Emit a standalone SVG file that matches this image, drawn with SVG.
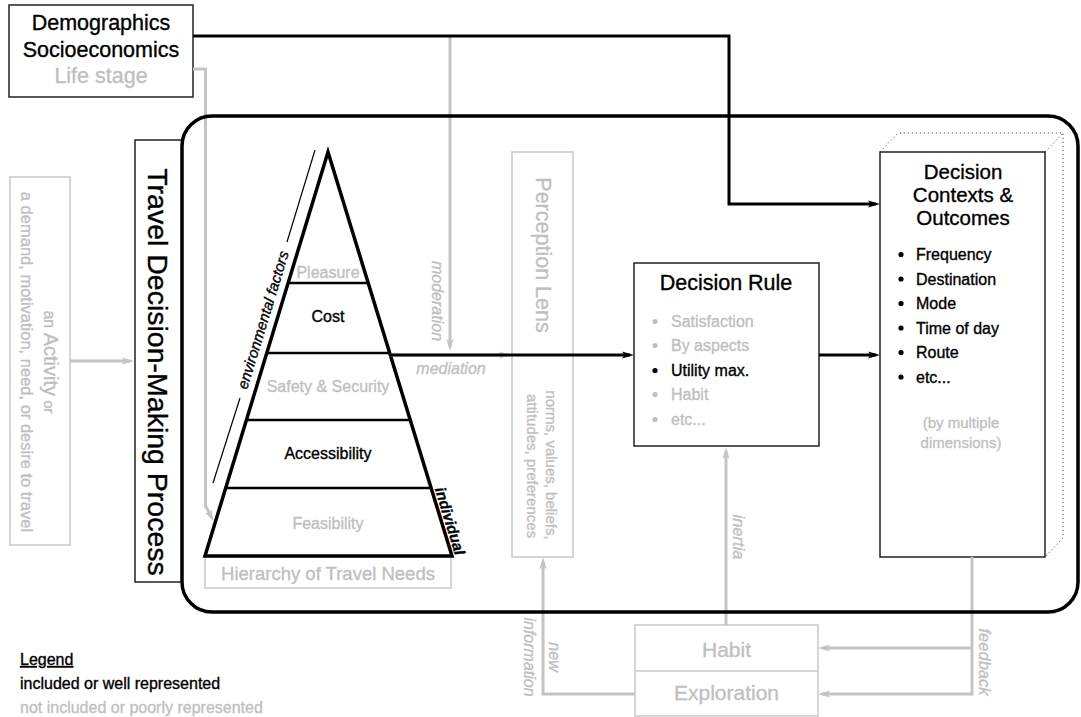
<svg xmlns="http://www.w3.org/2000/svg" width="1081" height="717" viewBox="0 0 1081 717">
  <style>
    text { font-family: "Liberation Sans", Arial, Helvetica, sans-serif; stroke-width: 0.35; }
    .k { fill: #000; }
    text.k, .k text { stroke: #000; }
    .g { fill: #bfbfbf; }
    text.g, .g text { stroke: #bfbfbf; }
    .it { font-style: italic; }
    .box { fill: none; stroke: #222; stroke-width: 1.5; }
    .gbox { fill: none; stroke: #c8c8c8; stroke-width: 1.5; }
    .bl { fill: none; stroke: #000; stroke-width: 3; }
    .gl { fill: none; stroke: #c4c4c4; stroke-width: 3; }
    .tier { stroke: #000; stroke-width: 2.5; }
    .dot { fill: none; stroke: #222; stroke-width: 1; stroke-dasharray: 1 3; }
  </style>
  <defs>
    <marker id="ahK" markerUnits="userSpaceOnUse" markerWidth="13" markerHeight="9" refX="8" refY="4.5" orient="auto">
      <path d="M0,1 L12,4.5 L0,8 L2.5,4.5 Z" fill="#000"/>
    </marker>
    <marker id="ahG" markerUnits="userSpaceOnUse" markerWidth="13" markerHeight="9" refX="8" refY="4.5" orient="auto">
      <path d="M0,1 L12,4.5 L0,8 L2.5,4.5 Z" fill="#c4c4c4"/>
    </marker>
  </defs>
  <rect width="1081" height="717" fill="#fff"/>

  <!-- Demographics -->
  <g id="demographics">
    <rect class="box" x="9" y="5" width="184" height="92"/>
    <text x="101" y="30" font-size="21.5" text-anchor="middle" class="k">Demographics</text>
    <text x="101" y="57" font-size="21.5" text-anchor="middle" class="k">Socioeconomics</text>
    <text x="101" y="83" font-size="21.5" text-anchor="middle" class="g">Life stage</text>
  </g>

  <!-- Activity -->
  <g id="activity">
    <rect class="gbox" x="10" y="177" width="60" height="368"/>
    <text transform="translate(44,362) rotate(90)" text-anchor="middle" class="g"><tspan font-size="16">an </tspan><tspan font-size="20">Activity</tspan><tspan font-size="15"> or</tspan></text>
    <text transform="translate(21,362) rotate(90)" text-anchor="middle" font-size="16.5" class="g">a demand, motivation, need, or desire to travel</text>
  </g>

  <!-- Travel decision-making process label -->
  <g id="process-label">
    <rect class="box" x="135" y="140" width="47" height="442"/>
    <text transform="translate(148,372) rotate(90)" text-anchor="middle" font-size="28.5" class="k">Travel Decision-Making Process</text>
  </g>

  <!-- Hierarchy of travel needs pyramid -->
  <g id="hierarchy">
    <rect class="gbox" x="205" y="557" width="246" height="31"/>
    <text x="328" y="580" font-size="18.5" text-anchor="middle" class="g">Hierarchy of Travel Needs</text>
    <line class="tier" x1="288" y1="283" x2="368" y2="283"/>
    <line class="tier" x1="267" y1="353" x2="390" y2="353"/>
    <line class="tier" x1="246" y1="420" x2="410" y2="420"/>
    <line class="tier" x1="226" y1="488" x2="431" y2="488"/>
    <polygon points="328,152 205,556 452,556" fill="none" stroke="#000" stroke-width="3.5"/>
    <text x="328" y="278" font-size="16" text-anchor="middle" class="g">Pleasure</text>
    <text x="328" y="322" font-size="16" text-anchor="middle" class="k">Cost</text>
    <text x="328" y="392" font-size="16" text-anchor="middle" class="g">Safety &amp; Security</text>
    <text x="328" y="459" font-size="16" text-anchor="middle" class="k">Accessibility</text>
    <text x="328" y="529" font-size="16" text-anchor="middle" class="g">Feasibility</text>
    <!-- environmental factors axis -->
    <line x1="315" y1="150" x2="287" y2="242" stroke="#000" stroke-width="1.2"/>
    <line x1="240" y1="398" x2="213" y2="483" stroke="#000" stroke-width="1.2"/>
    <text transform="translate(268,321.5) rotate(-73)" text-anchor="middle" font-size="15" class="k it">environmental factors</text>
    <text transform="translate(445,522.5) rotate(72.9)" text-anchor="middle" font-size="15" font-weight="bold" class="k it">individual</text>
  </g>

  <!-- Perception lens -->
  <g id="perception-lens">
    <rect class="gbox" x="512" y="152" width="61" height="405"/>
    <text transform="translate(535.5,255) rotate(90)" text-anchor="middle" font-size="21.5" class="g">Perception Lens</text>
    <text transform="translate(546,465) rotate(90)" text-anchor="middle" font-size="15" class="g">norms, values, beliefs,</text>
    <text transform="translate(527,466) rotate(90)" text-anchor="middle" font-size="15" class="g">attitudes, preferences</text>
  </g>

  <!-- Decision rule -->
  <g id="decision-rule">
    <rect class="box" x="634" y="263" width="185" height="183" fill="#fff"/>
    <text x="726" y="290" font-size="21.5" text-anchor="middle" class="k">Decision Rule</text>
    <g font-size="16">
      <circle cx="655" cy="321.5" r="2.6" class="g"/>
      <text x="671" y="327" class="g">Satisfaction</text>
      <circle cx="655" cy="345.5" r="2.6" class="g"/>
      <text x="671" y="351" class="g">By aspects</text>
      <circle cx="655" cy="370.5" r="2.6" class="k"/>
      <text x="671" y="376" class="k">Utility max.</text>
      <circle cx="655" cy="394.5" r="2.6" class="g"/>
      <text x="671" y="400" class="g">Habit</text>
      <circle cx="655" cy="419.5" r="2.6" class="g"/>
      <text x="671" y="425" class="g">etc...</text>
    </g>
  </g>

  <!-- Decision contexts and outcomes -->
  <g id="decision-contexts">
    <path class="dot" d="M880,152 L898,133 L1063,133 L1063,538 L1045,557 M1045,152 L1063,133"/>
    <rect class="box" x="880" y="152" width="165" height="405" fill="#fff"/>
    <text x="963" y="179" font-size="20.5" text-anchor="middle" class="k">Decision</text>
    <text x="963" y="202" font-size="20.5" text-anchor="middle" class="k">Contexts &amp;</text>
    <text x="963" y="225" font-size="20.5" text-anchor="middle" class="k">Outcomes</text>
    <g font-size="16" class="k">
      <circle cx="901" cy="254.5" r="2.6"/>
      <text x="916" y="260">Frequency</text>
      <circle cx="901" cy="279" r="2.6"/>
      <text x="916" y="284.5">Destination</text>
      <circle cx="901" cy="303.5" r="2.6"/>
      <text x="916" y="309">Mode</text>
      <circle cx="901" cy="328" r="2.6"/>
      <text x="916" y="333.5">Time of day</text>
      <circle cx="901" cy="352.5" r="2.6"/>
      <text x="916" y="358">Route</text>
      <circle cx="901" cy="377" r="2.6"/>
      <text x="916" y="382.5">etc...</text>
    </g>
    <text x="961" y="428" font-size="15" text-anchor="middle" class="g">(by multiple</text>
    <text x="961" y="448" font-size="15" text-anchor="middle" class="g">dimensions)</text>
  </g>

  <!-- Habit / exploration -->
  <g id="habit-exploration">
    <rect class="gbox" x="635" y="625" width="183" height="91"/>
    <line x1="635" y1="671" x2="818" y2="671" stroke="#c8c8c8" stroke-width="1.5"/>
    <text x="726.5" y="657" font-size="21" text-anchor="middle" class="g">Habit</text>
    <text x="726.5" y="700" font-size="21" text-anchor="middle" class="g">Exploration</text>
  </g>

  <!-- Legend -->
  <g id="legend" font-size="16">
    <text x="20" y="665" class="k" text-decoration="underline">Legend</text>
    <text x="20" y="689" class="k">included or well represented</text>
    <text x="20" y="713" class="g">not included or poorly represented</text>
  </g>

  <!-- Connectors -->
  <g id="connectors">
    <path class="gl" d="M193,69 H205.5 V506 L212,518" marker-end="url(#ahG)"/>
    <path class="gl" d="M450,37 V347" marker-end="url(#ahG)"/>
    <path class="gl" d="M70,361 H130" marker-end="url(#ahG)"/>
    <path class="gl" d="M390,355 H507" marker-end="url(#ahG)"/>
    <path class="gl" d="M726,625 V451" marker-end="url(#ahG)"/>
    <path class="gl" d="M635,694 H543 V561" marker-end="url(#ahG)"/>
    <path class="gl" d="M972,557 V694 H822" marker-end="url(#ahG)"/>
    <path class="gl" d="M972,648 H822" marker-end="url(#ahG)"/>
    <path class="bl" d="M193,36 H729 V204 H876" marker-end="url(#ahK)"/>
    <path class="bl" d="M390,355 H630" marker-end="url(#ahK)"/>
    <path class="bl" d="M819,355 H876" marker-end="url(#ahK)"/>
    <text transform="translate(432,301) rotate(90)" text-anchor="middle" font-size="16" class="g it">moderation</text>
    <text x="451" y="374" font-size="16" text-anchor="middle" class="g it">mediation</text>
    <text transform="translate(733,537) rotate(90)" text-anchor="middle" font-size="16.5" class="g it">inertia</text>
    <text transform="translate(549,657) rotate(90)" text-anchor="middle" font-size="16" class="g it">new</text>
    <text transform="translate(524,657) rotate(90)" text-anchor="middle" font-size="16" class="g it">information</text>
    <text transform="translate(979,662) rotate(90)" text-anchor="middle" font-size="16.5" class="g it">feedback</text>
  </g>

  <!-- Decision-making process boundary -->
  <g id="process-frame">
    <rect x="182" y="116" width="896" height="496" rx="30" ry="30" fill="none" stroke="#000" stroke-width="3.5"/>
  </g>
</svg>
